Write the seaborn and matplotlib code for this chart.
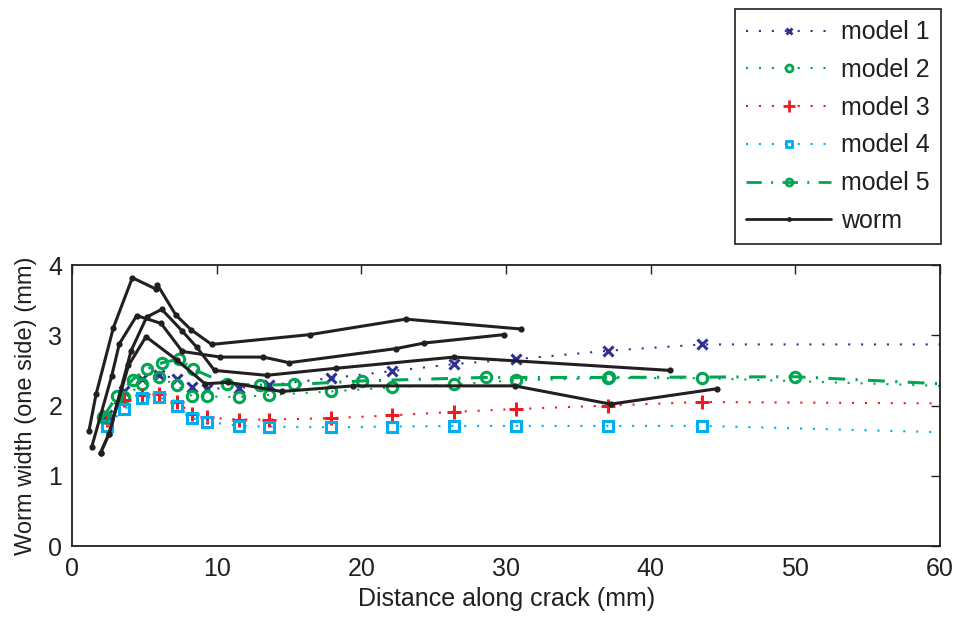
import numpy as np
import pandas as pd
import matplotlib
matplotlib.use("Agg")
import matplotlib.pyplot as plt
from matplotlib.lines import Line2D
import seaborn as sns

# ---------------- data ----------------
model_x = [2.4, 3.62, 4.81, 6.01, 7.23, 8.32, 9.31, 11.54, 13.6, 17.88, 22.1, 26.4, 30.68, 37.06, 43.56, 60.0]
model1 = [1.87, 2.20, 2.38, 2.44, 2.38, 2.27, 2.24, 2.25, 2.29, 2.39, 2.49, 2.59, 2.66, 2.78, 2.87, 2.87]
model2 = [1.82, 2.12, 2.30, 2.40, 2.29, 2.13, 2.13, 2.12, 2.15, 2.20, 2.26, 2.30, 2.36, 2.39, 2.39, 2.28]
model3 = [1.79, 2.08, 2.15, 2.17, 2.05, 1.88, 1.83, 1.80, 1.80, 1.82, 1.86, 1.91, 1.95, 2.00, 2.05, 2.03]
model4 = [1.71, 1.95, 2.11, 2.12, 2.00, 1.82, 1.77, 1.71, 1.70, 1.69, 1.70, 1.71, 1.71, 1.71, 1.71, 1.62]

model5_x = [2.17, 3.09, 4.19, 5.2, 6.24, 7.39, 8.34, 10.69, 12.99, 15.36, 20.02, 28.61, 37.1, 49.97, 60.0]
model5 = [1.84, 2.13, 2.37, 2.52, 2.61, 2.66, 2.52, 2.31, 2.29, 2.30, 2.35, 2.40, 2.40, 2.41, 2.31]

worm_a_x = [1.17, 1.66, 2.86, 4.17, 5.78, 5.9, 7.17, 8.22, 9.65, 16.45, 23.06, 31.0]
worm_a_y = [1.64, 2.16, 3.11, 3.82, 3.66, 3.72, 3.29, 3.08, 2.87, 3.01, 3.23, 3.09]
worm_b_x = [1.36, 2.74, 3.27, 4.47, 6.15, 7.62, 10.25, 13.22, 15.0, 22.37, 24.35, 29.88]
worm_b_y = [1.41, 2.42, 2.88, 3.28, 3.17, 2.77, 2.69, 2.69, 2.61, 2.81, 2.89, 3.01]
worm_c_x = [1.98, 2.56, 4.08, 5.16, 6.2, 7.62, 8.62, 9.85, 13.45, 18.22, 26.4, 41.33]
worm_c_y = [1.33, 1.60, 2.78, 3.26, 3.37, 3.06, 2.83, 2.50, 2.43, 2.53, 2.69, 2.50]
worm_d_x = [1.98, 2.56, 3.9, 5.11, 7.23, 9.19, 10.8, 14.49, 19.44, 30.6, 37.23, 44.6]
worm_d_y = [1.33, 1.60, 2.57, 2.98, 2.65, 2.31, 2.33, 2.20, 2.28, 2.28, 2.02, 2.24]

labels = ["model 1", "model 2", "model 3", "model 4", "model 5", "worm"]
x_ticks = [0, 10, 20, 30, 40, 50, 60]
y_ticks = [0, 1, 2, 3, 4]

# ---------------- style ----------------
sns.set_style("white")
plt.rcParams["font.family"] = ["Liberation Sans", "DejaVu Sans"]

NAVY = "#2e3192"
GREEN = "#00a651"
RED = "#ed1c24"
CYAN = "#00aeef"
BLACK = "#231f20"
DOT = (0, (1, 5.2))
DASHDOT = (0, (5.5, 3.4, 0.7, 3.4))

fig = plt.figure(figsize=(9.58, 6.18), dpi=100)
ax = fig.add_axes([0.0752, 0.1165, 0.9061, 0.4546])

n = len(model_x)
mk = list(range(n - 1))
n5 = len(model5_x)
mk5 = list(range(n5 - 1))

sns.lineplot(x=model_x, y=model1, ax=ax, sort=False, estimator=None, color=NAVY,
             linestyle=DOT, lw=1.5, marker="x", markersize=7, mew=2.2, mec=NAVY,
             markevery=mk, legend=False)
sns.lineplot(x=model_x, y=model2, ax=ax, sort=False, estimator=None, color=GREEN,
             linestyle=DOT, lw=1.5, marker="o", markersize=7.5, mew=2.2, mec=GREEN,
             mfc="none", markevery=mk, legend=False)
sns.lineplot(x=model_x, y=model3, ax=ax, sort=False, estimator=None, color=RED,
             linestyle=DOT, lw=1.5, marker="+", markersize=10, mew=2.2, mec=RED,
             markevery=mk, legend=False)
sns.lineplot(x=model_x, y=model4, ax=ax, sort=False, estimator=None, color=CYAN,
             linestyle=DOT, lw=1.5, marker="s", markersize=6.5, mew=2.2, mec=CYAN,
             mfc="none", markevery=mk, legend=False)
sns.lineplot(x=model5_x, y=model5, ax=ax, sort=False, estimator=None, color=GREEN,
             linestyle=DASHDOT, lw=2.2, marker="o", markersize=7.5, mew=2.2, mec=GREEN,
             mfc="none", markevery=mk5, legend=False)

worm = pd.concat([
    pd.DataFrame({"x": worm_a_x, "y": worm_a_y, "trace": "a"}),
    pd.DataFrame({"x": worm_b_x, "y": worm_b_y, "trace": "b"}),
    pd.DataFrame({"x": worm_c_x, "y": worm_c_y, "trace": "c"}),
    pd.DataFrame({"x": worm_d_x, "y": worm_d_y, "trace": "d"}),
])
for t, g in worm.groupby("trace"):
    sns.lineplot(data=g, x="x", y="y", ax=ax, sort=False, estimator=None, color=BLACK,
                 lw=2.2, marker="o", markersize=4.5, mew=0, mfc=BLACK, legend=False)

ax.set_xlim(0, 60)
ax.set_ylim(0, 4)
ax.set_xticks(x_ticks)
ax.set_yticks(y_ticks)
ax.set_xticklabels([str(v) for v in x_ticks], fontsize=18)
ax.set_yticklabels([str(v) for v in y_ticks], fontsize=18)
ax.tick_params(direction="in", length=6.5, width=1, top=True, right=True,
               colors=BLACK, labelcolor=BLACK)
ax.tick_params(axis="x", pad=8)
ax.tick_params(axis="y", pad=7)
for s in ax.spines.values():
    s.set_visible(True)
    s.set_color(BLACK)
    s.set_linewidth(1.3)

ax.set_xlabel("Distance along crack (mm)", fontsize=18, color=BLACK, labelpad=4)
ax.set_ylabel("Worm width (one side) (mm)", fontsize=17, color=BLACK, labelpad=8)

handles = [
    Line2D([], [], color=NAVY, linestyle=DOT, lw=1.5, marker="x", markersize=5, mew=2),
    Line2D([], [], color=GREEN, linestyle=DOT, lw=1.5, marker="o", markersize=5, mew=2, mfc="none"),
    Line2D([], [], color=RED, linestyle=DOT, lw=1.5, marker="+", markersize=8, mew=2),
    Line2D([], [], color=CYAN, linestyle=DOT, lw=1.5, marker="s", markersize=5, mew=2, mfc="none"),
    Line2D([], [], color=GREEN, linestyle=DASHDOT, lw=2, marker="o", markersize=5, mew=2, mfc="none"),
    Line2D([], [], color=BLACK, lw=2, marker="o", markersize=3.5, mew=0, mfc=BLACK),
]
leg = ax.legend(handles, labels, loc="upper right", bbox_to_anchor=(941 / 958, 1 - 9 / 618),
                bbox_transform=fig.transFigure, borderaxespad=0, fontsize=18,
                frameon=True, fancybox=False, framealpha=1, edgecolor=BLACK,
                handlelength=3.4, handletextpad=0.4, labelspacing=0.55,
                borderpad=0.45, markerscale=1)
leg.get_frame().set_linewidth(1.2)
for txt in leg.get_texts():
    txt.set_color(BLACK)

fig.savefig("out.png", dpi=100)
